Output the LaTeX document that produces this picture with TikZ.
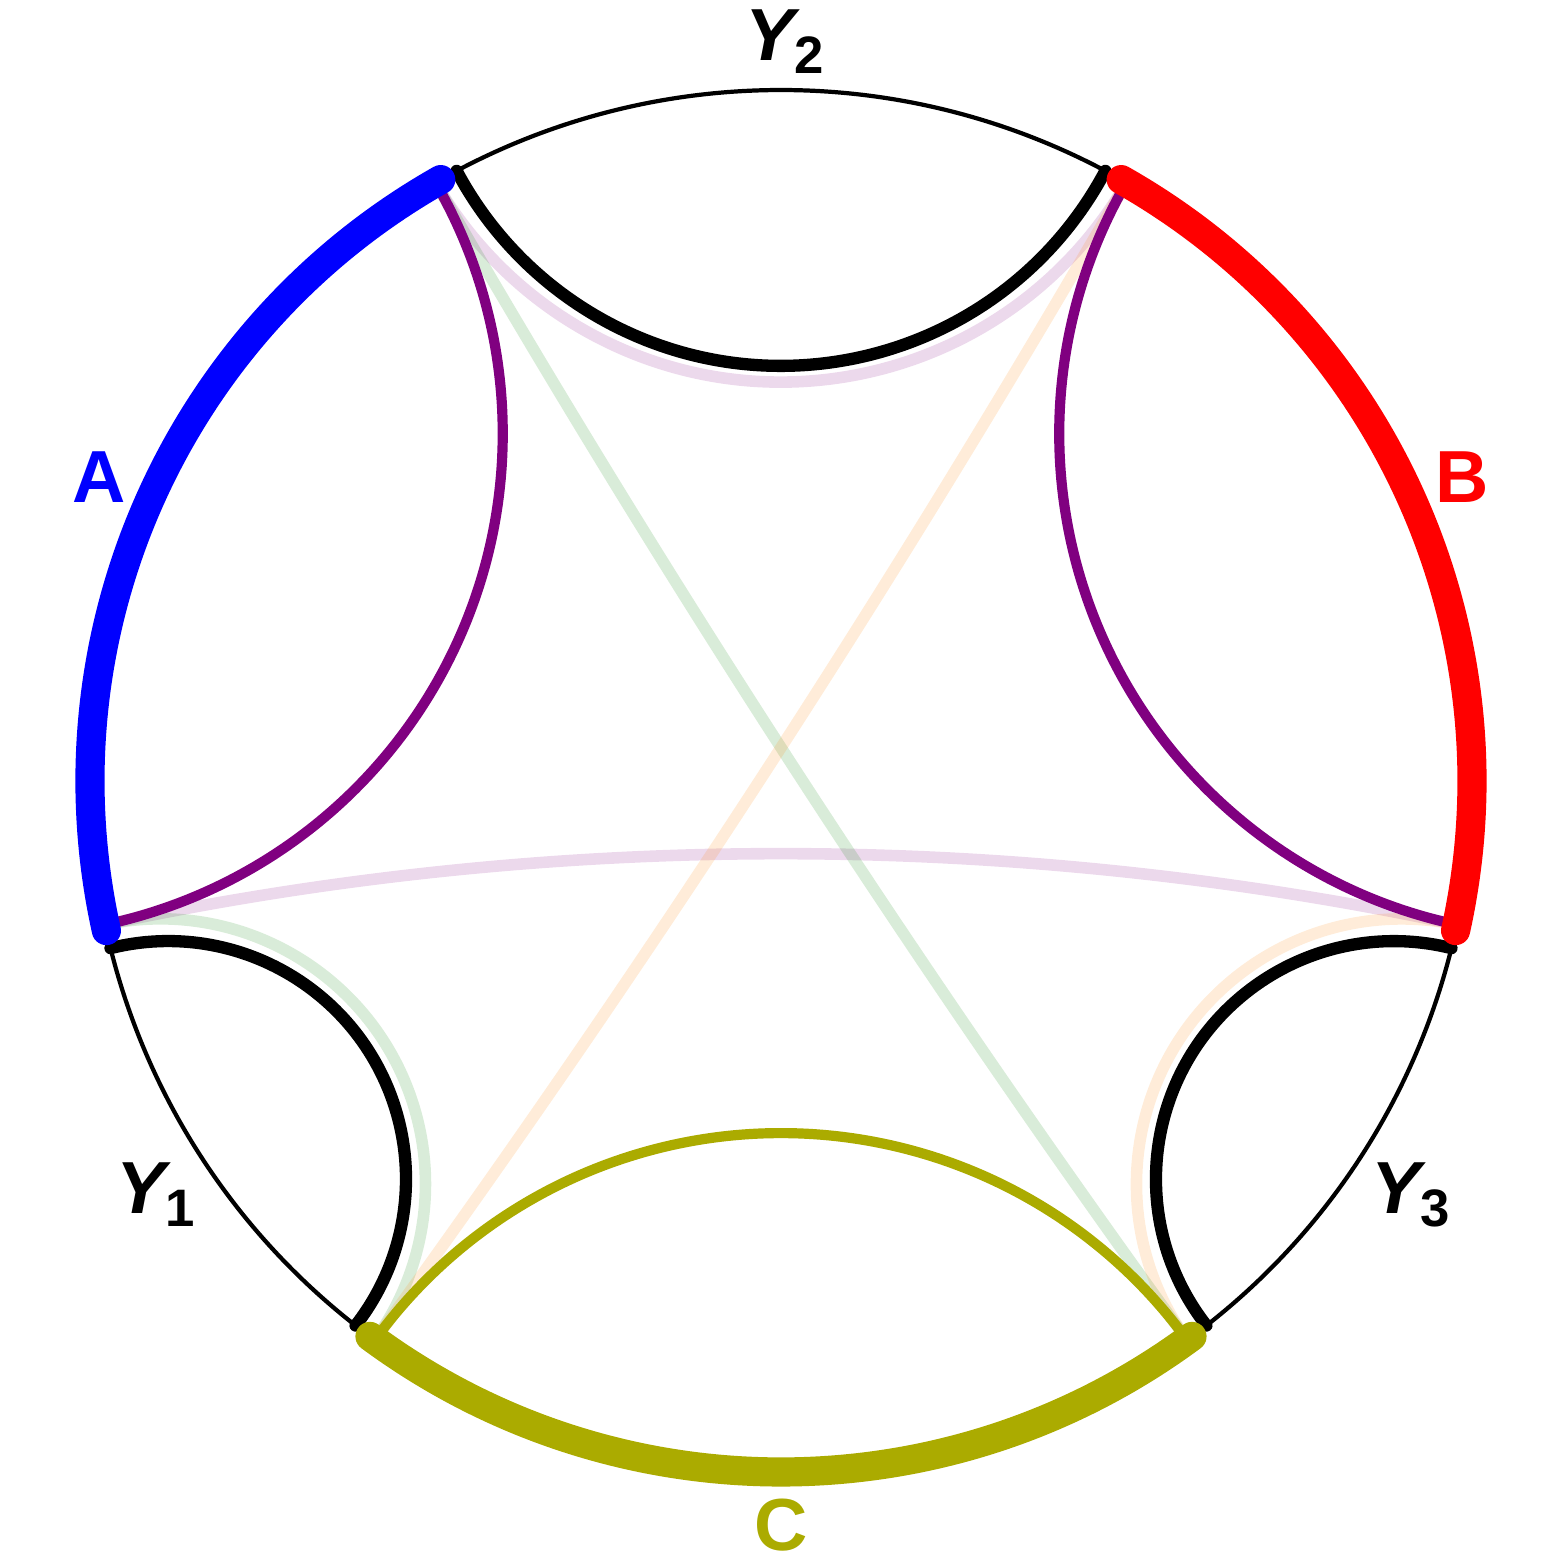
\documentclass[tikz,border=0pt]{standalone}
\usepackage{fontspec}
\setmainfont{Liberation Sans}
\definecolor{olivec}{rgb}{0.67,0.67,0}
\definecolor{mpurple}{rgb}{0.5,0,0.5}
\definecolor{mgreen}{rgb}{0,0.5,0}
\tikzset{
  bdarc/.style={line width=8.3pt,line cap=round},
  thinarc/.style={line width=1.2pt,line cap=round},
  geo/.style={line width=2.9pt,line cap=round},
  ygeo/.style={line width=3.5pt,line cap=round},
  faint/.style={line width=3.3pt,opacity=.15},
  lab/.style={inner sep=0pt,anchor=base,font=\fontsize{21}{21}\selectfont\bfseries}
}
\newcommand{\crad}{6.91}
% arc orthogonal to the boundary circle, from angle #3 to angle #4
\newcommand{\geod}[4][]{%
  \pgfmathsetmacro\gRad{\crad*tan((#4-#3)/2)}%
  \draw[#1] (#2) arc[start angle=#3-90,end angle=#4-270,radius=\gRad];}
\newcommand{\ysub}[1]{{\itshape Y}\raisebox{-3.7pt}{\fontsize{15}{15}\selectfont #1}}

\begin{document}
\begin{tikzpicture}
  \useasboundingbox (-7.81,-7.82) rectangle (7.82,7.81);
  % points on the circle
  \coordinate (a1) at (120:\crad);
  \coordinate (a2) at (192:\crad);
  \coordinate (c1) at (234:\crad);
  \coordinate (c2) at (306:\crad);
  \coordinate (b1) at (348:\crad);
  \coordinate (b2) at (60:\crad);
  \coordinate (y2s) at (62:\crad);
  \coordinate (y1s) at (194:\crad);
  \coordinate (y3s) at (308:\crad);
  \coordinate (ta) at (119.5:\crad);
  \coordinate (tc) at (233.5:\crad);
  \coordinate (tb) at (347.5:\crad);
  % faint arcs
  \geod[faint,mpurple]{b2}{60}{120}
  \geod[faint,mpurple]{a2}{192}{348}
  \geod[faint,mgreen]{c2}{306}{480}
  \geod[faint,mgreen]{a2}{192}{234}
  \geod[faint,orange]{b2}{60}{234}
  \geod[faint,orange]{c2}{306}{348}
  % inner arcs
  \geod[geo,mpurple]{a1}{120}{192}
  \geod[geo,mpurple]{b1}{348}{420}
  \geod[geo,olivec]{c1}{234}{306}
  \geod[ygeo]{y2s}{62}{118}
  \geod[ygeo]{y1s}{194}{232}
  \geod[ygeo]{y3s}{308}{346}
  % boundary
  \draw[thinarc] (y2s) arc[start angle=62,end angle=118,radius=\crad];
  \draw[thinarc] (y1s) arc[start angle=194,end angle=232,radius=\crad];
  \draw[thinarc] (y3s) arc[start angle=308,end angle=346,radius=\crad];
  \draw[bdarc,blue] (ta) arc[start angle=119.5,end angle=192.5,radius=\crad];
  \draw[bdarc,olivec] (tc) arc[start angle=233.5,end angle=306.5,radius=\crad];
  \draw[bdarc,red] (tb) arc[start angle=347.5,end angle=420.5,radius=\crad];
  % labels
  \node[lab,text=blue] (labA) at (-6.82,2.79) {A};
  \node[lab,text=red] (labB) at (6.81,2.79) {B};
  \node[lab,text=olivec] (labC) at (0,-7.69) {C};
  \node[lab] (labY2) at (0.04,7.21) {\ysub{2}};
  \node[lab] (labY1) at (-6.25,-4.32) {\ysub{1}};
  \node[lab] (labY3) at (6.30,-4.32) {\ysub{3}};
\end{tikzpicture}
\end{document}
